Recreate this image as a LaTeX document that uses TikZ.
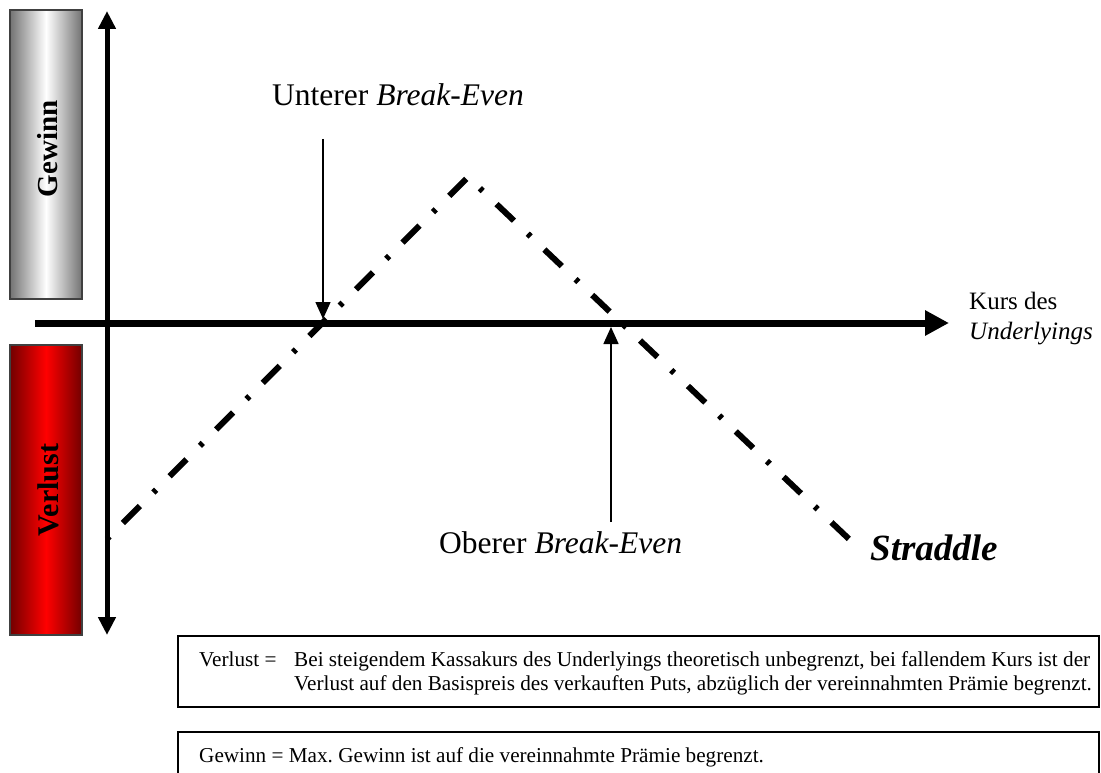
\documentclass[tikz,border=0pt]{standalone}
\usepackage{fontspec}
\setmainfont{Liberation Serif}
\usetikzlibrary{arrows.meta}
\frenchspacing
\tikzset{
  axisline/.style={line width=#1, black},
  sidebox/.style={draw=black!75, line width=1.2pt},
  lbl/.style={inner sep=0pt, anchor=base west},
  bigtxt/.style={lbl, font=\fontsize{31.5}{36}\selectfont},
  smalltxt/.style={lbl, font=\fontsize{21.2}{24}\selectfont},
  sidetxt/.style={rotate=90, inner sep=0pt},
  bearrow/.style={line width=1.5pt, -{Triangle[length=17pt,width=15pt]}},
  payoff/.style={line width=6pt, dash pattern=on 24pt off 19pt on 4pt off 19pt, dash phase=43.4pt},
  infobox/.style={draw=black, line width=1.6pt}
}
\begin{document}
\begin{tikzpicture}[x=1pt,y=-1pt]
\useasboundingbox (0,0) rectangle (1101,773);
\clip (0,0) rectangle (1101,773);
% side boxes
\shade[left color=black!55, right color=black!55, middle color=white] (10,10) rectangle (82,299);
\draw[sidebox] (10,10) rectangle (82,299);
\shade[left color=red!45!black, right color=red!45!black, middle color=red] (10,345) rectangle (82,635);
\draw[sidebox] (10,345) rectangle (82,635);
\node[sidetxt, font=\fontsize{29}{30}\selectfont\bfseries] (gew) at (48,149) {Gewinn};
\node[sidetxt, font=\fontsize{30}{32}\selectfont\bfseries] (ver) at (48,490) {Verlust};
% axes
\coordinate (vbot) at (107,635);
\coordinate (vtop) at (107,11);
\coordinate (hleft) at (35,323);
\coordinate (hright) at (949,323);
\draw[axisline=5pt, {Triangle[length=18pt,width=17pt]}-{Triangle[length=18pt,width=17pt]}] (vbot) -- (vtop);
\draw[axisline=7pt, -{Triangle[length=24pt,width=24pt]}] (hleft) -- (hright);
% payoff
\coordinate (p0) at (107,539);
\coordinate (pk) at (468,177);
\coordinate (p1) at (850,540);
\draw[payoff] (p0) -- (pk) -- (p1);
% break-even arrows
\coordinate (ua) at (323,139);
\coordinate (ub) at (323,319);
\coordinate (oa) at (611,522);
\coordinate (ob) at (611,327);
\draw[bearrow] (ua) -- (ub);
\draw[bearrow] (oa) -- (ob);
\node[bigtxt] (unt) at (272,106) {Unterer \textit{Break-Even}};
\node[bigtxt] (obe) at (439,553) {Oberer \textit{Break-Even}};
\node[lbl, font=\fontsize{25}{29.5}\selectfont] (kurs1) at (969,309) {Kurs des};
\node[lbl, font=\fontsize{25}{29.5}\selectfont\itshape] (kurs2) at (969,339) {Underlyings};
\node[lbl, font=\fontsize{37}{40}\selectfont\bfseries\itshape] (strad) at (870,560) {Straddle};
% info boxes
\draw[infobox] (178,636) rectangle (1099,707);
\draw[infobox] (178,732) rectangle (1099,800);
\node[smalltxt] (vl) at (199,666) {Verlust =};
\node[smalltxt] (vt1) at (294,666) {Bei steigendem Kassakurs des Underlyings theoretisch unbegrenzt, bei fallendem Kurs ist der};
\node[smalltxt] (vt2) at (294,690) {Verlust auf den Basispreis des verkauften Puts, abzüglich der vereinnahmten Prämie begrenzt.};
\node[smalltxt] (gt) at (199,762) {Gewinn = Max. Gewinn ist auf die vereinnahmte Prämie begrenzt.};
\end{tikzpicture}
\end{document}
